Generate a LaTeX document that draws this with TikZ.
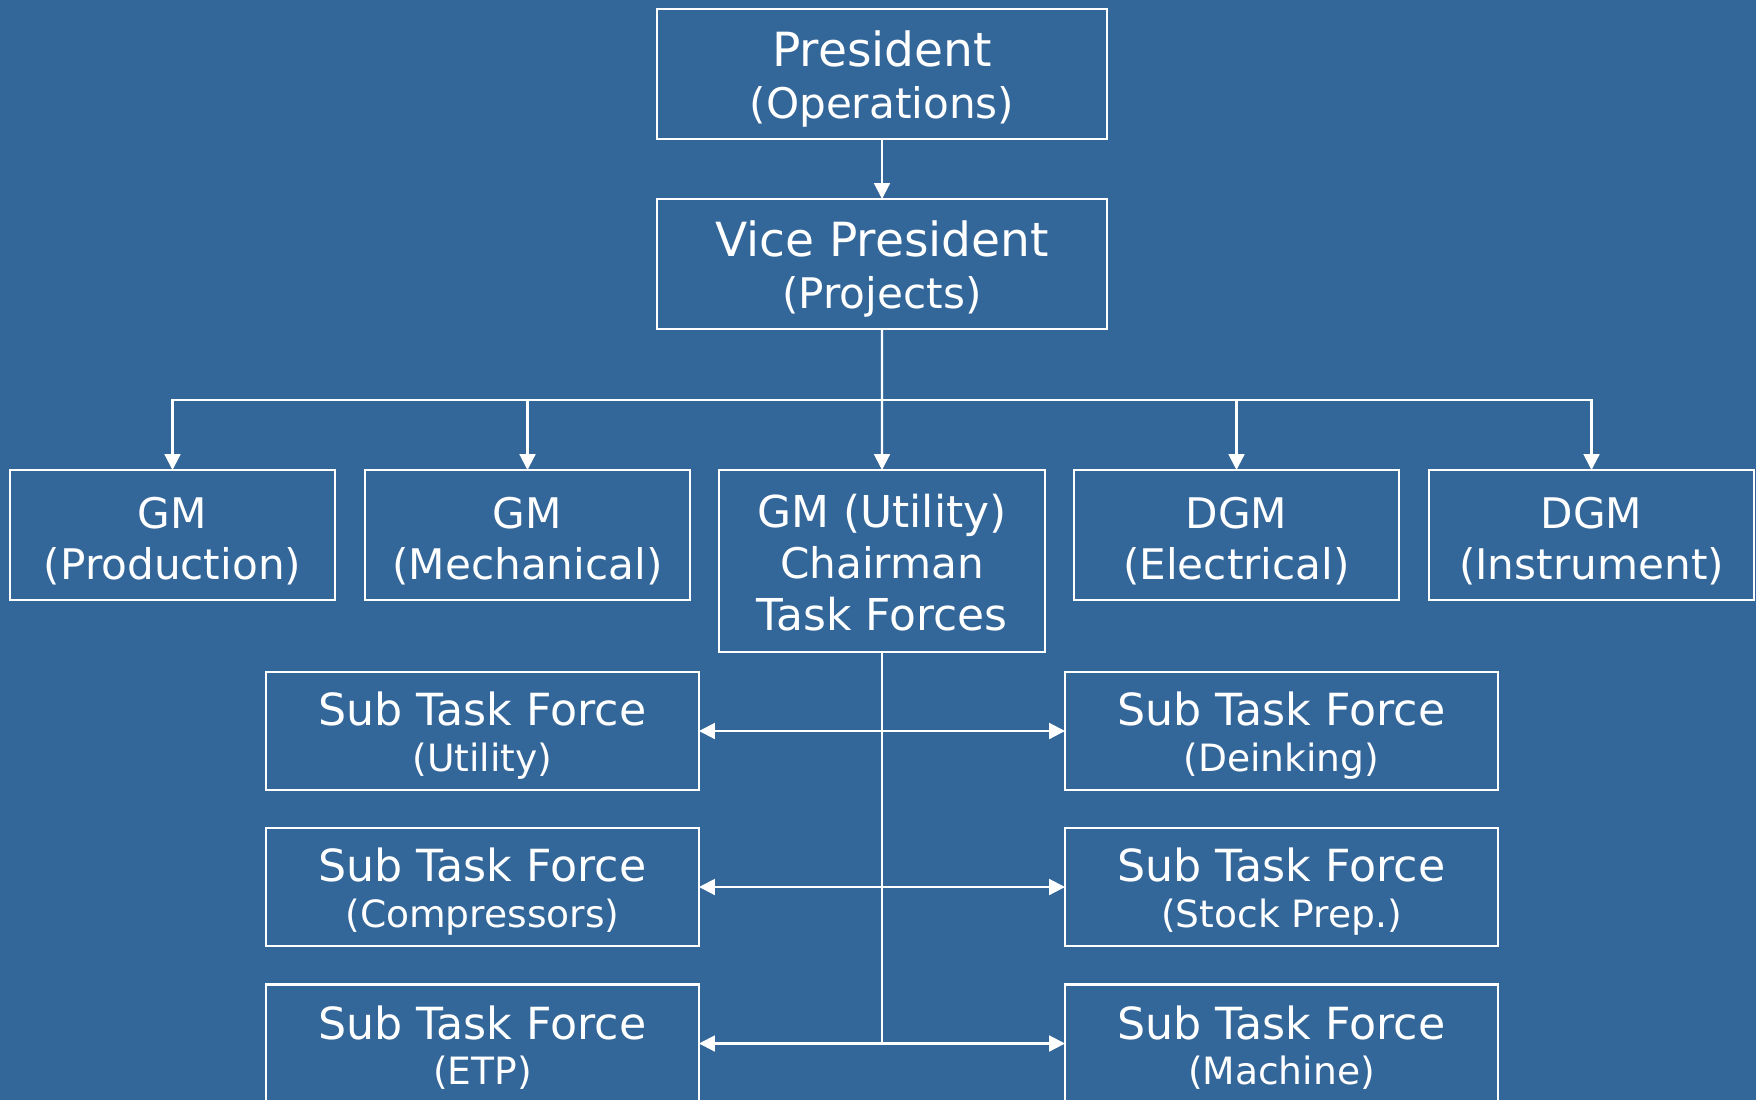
\documentclass[tikz,border=0pt]{standalone}
\usepackage{fontspec}
\setmainfont{DejaVu Sans}
\usepackage{tikz}
\usetikzlibrary{
        arrows.meta,
        positioning
    }
\definecolor{bgblue}{HTML}{336699}
\tikzset{>={Triangle[length=4.5pt,width=4.5pt]},node distance=0.3cm}
\tikzset{
    box/.style={draw=white,line width=0.6pt,text=white,align=center,inner sep=0pt,outer sep=0pt},
    topbox/.style={box,minimum width=4.5cm,minimum height=1.3cm,font=\fontsize{13.4}{14.8}\selectfont},
    gmbox/.style={box,minimum width=3.25cm,minimum height=1.3cm,font=\fontsize{12}{14.6}\selectfont},
    subbox/.style={box,minimum width=4.33cm,minimum height=1.18cm,font=\fontsize{12.6}{13}\selectfont},
    link/.style={white,line width=0.6pt}
}
\newcommand{\smalltext}[1]{{\fontsize{12}{14.8}\selectfont #1}}
\newcommand{\subtext}[1]{{\fontsize{10.7}{13}\selectfont #1}}
\newcommand{\topgap}[1]{\rule{0pt}{#1}}

\begin{document}
\begin{tikzpicture}
            \useasboundingbox (0,0) rectangle (17.56,-11);
            \fill[bgblue] (0,0) rectangle (17.56,-11);
            % top of the chart
            \node[topbox] (pres) at (8.82,-0.74) {\topgap{13.2pt}President\\\smalltext{(Operations)}};
            \node[topbox] (vp) [below=0.6cm of pres] {\topgap{13pt}Vice President\\\smalltext{(Projects)}};
            % general managers
            \node[gmbox] (gmprod) at (1.725,-5.35) {\topgap{12.3pt}GM\\(Production)};
            \node[gmbox] (gmmech) [right=0.3cm of gmprod] {\topgap{12.3pt}GM\\(Mechanical)};
            \node[gmbox,minimum width=3.26cm,minimum height=1.82cm] (gmutil) [right=0.29cm of gmmech.north east,anchor=north west] {\topgap{10.4pt}{\fontsize{12.5}{14.6}\selectfont GM (Utility)}\\Chairman\\{\fontsize{12.5}{14.6}\selectfont Task Forces}};
            \node[gmbox] (dgmelec) [right=0.29cm of gmutil.north east,anchor=north west] {\topgap{12.3pt}DGM\\(Electrical)};
            \node[gmbox] (dgminst) [right=0.3cm of dgmelec] {\topgap{12.3pt}DGM\\(Instrument)};
            % sub task forces
            \node[subbox] (stfutil) at (4.825,-7.31) {\topgap{12pt}Sub Task Force\\\subtext{(Utility)}};
            \node[subbox] (stfcomp) [below=0.38cm of stfutil] {\topgap{12pt}Sub Task Force\\\subtext{(Compressors)}};
            \node[subbox] (stfetp) [below=0.385cm of stfcomp] {\topgap{12pt}Sub Task Force\\\subtext{(ETP)}};
            \node[subbox] (stfdeink) at (12.815,-7.31) {\topgap{12pt}Sub Task Force\\\subtext{(Deinking)}};
            \node[subbox] (stfstock) [below=0.38cm of stfdeink] {\topgap{12pt}Sub Task Force\\\subtext{(Stock Prep.)}};
            \node[subbox] (stfmach) [below=0.385cm of stfstock] {\topgap{12pt}Sub Task Force\\\subtext{(Machine)}};
            \coordinate (bus) at (vp.south |- 0,-4.0);
            \coordinate (trunk) at (gmutil.south |- stfetp.east);
            % connectors
            \draw[->,link] (pres) -- (vp);
            \draw[->,link] (vp) -- (gmutil);
            \draw[->,link] (bus) -| (gmprod);
            \draw[->,link] (bus) -| (gmmech);
            \draw[->,link] (bus) -| (dgmelec);
            \draw[->,link] (bus) -| (dgminst);
            \draw[link] (gmutil) -- (trunk);
            \draw[<->,link] (stfutil.east) -- (stfdeink.west);
            \draw[<->,link] (stfcomp.east) -- (stfstock.west);
            \draw[<->,link] (stfetp.east) -- (stfmach.west);
        \end{tikzpicture}
\end{document}
